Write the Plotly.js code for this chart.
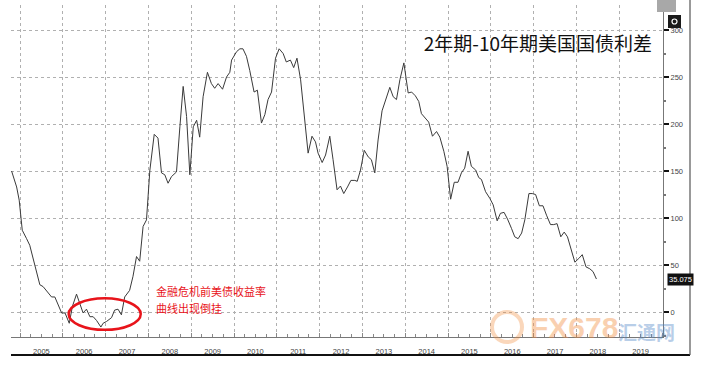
<!DOCTYPE html>
<html>
<head>
<meta charset="utf-8">
<script src="https://cdn.plot.ly/plotly-3.0.1.min.js"></script>
<style>html,body{margin:0;padding:0;background:#fff;}#chart{width:710px;height:376px;}</style>
</head>
<body>
<div id="chart"></div>
<script>
// 2y-10y US Treasury spread (bp)
const dates = [
 "2004-10-21","2004-12-03","2004-12-25","2005-01-20","2005-02-26","2005-03-25","2005-05-07","2005-06-19",
 "2005-07-17","2005-08-29","2005-09-27","2005-10-25","2005-11-23","2005-12-22","2006-01-20","2006-02-25",
 "2006-03-24","2006-04-28","2006-05-26","2006-06-23","2006-07-22","2006-08-20","2006-09-17","2006-10-16",
 "2006-11-22","2006-12-11","2007-01-10","2007-02-21","2007-03-19","2007-04-17","2007-05-16","2007-06-13",
 "2007-07-25","2007-08-23","2007-09-22","2007-10-19","2007-11-17","2007-12-16","2008-01-14","2008-02-20",
 "2008-03-23","2008-04-22","2008-05-20","2008-06-17","2008-07-16","2008-08-28","2008-09-26","2008-10-24",
 "2008-11-22","2008-12-20","2009-01-18","2009-02-16","2009-03-14","2009-04-12","2009-05-19","2009-06-22",
 "2009-07-20","2009-08-18","2009-09-25","2009-10-29","2009-11-26","2009-12-11","2010-01-23","2010-02-20",
 "2010-03-18","2010-04-17","2010-05-15","2010-06-21","2010-07-19","2010-08-23","2010-09-21","2010-10-18",
 "2010-11-17","2010-12-21","2011-01-21","2011-02-24","2011-03-23","2011-04-27","2011-05-25","2011-06-22",
 "2011-07-23","2011-08-21","2011-09-25","2011-10-28","2011-11-27","2011-12-19","2012-01-23","2012-02-21",
 "2012-03-28","2012-04-25","2012-05-29","2012-06-27","2012-07-25","2012-08-26","2012-09-24","2012-10-28",
 "2012-11-17","2012-12-15","2013-01-16","2013-02-19","2013-03-18","2013-04-16","2013-05-14","2013-06-17",
 "2013-07-24","2013-08-22","2013-09-20","2013-10-18","2013-11-16","2013-12-20","2014-01-26","2014-02-24",
 "2014-03-28","2014-04-26","2014-05-19","2014-06-16","2014-07-20","2014-08-21","2014-09-25","2014-10-23",
 "2014-11-26","2014-12-24","2015-01-23","2015-02-23","2015-03-27","2015-04-25","2015-05-23","2015-06-21",
 "2015-07-19","2015-08-25","2015-09-20","2015-10-13","2015-11-17","2015-12-23","2016-01-21","2016-02-24",
 "2016-03-23","2016-04-23","2016-05-22","2016-06-25","2016-07-23","2016-08-21","2016-09-20","2016-10-17",
 "2016-11-21","2016-12-19","2017-01-17","2017-02-18","2017-03-21","2017-04-20","2017-05-24","2017-06-21",
 "2017-07-19","2017-08-20","2017-09-18","2017-10-16","2017-11-20","2017-12-18","2018-01-21","2018-02-19",
 "2018-03-23","2018-04-24","2018-05-22","2018-06-20"
];
const spread = [
 150,133,119,87,78,71,50,29,
 27,20,16,16,7,-1,-1,-12,
 6,19,9,-1,3,-5,-5,-9,
 -16,-12,-10,-6,2,3,-3,16,
 23,38,59,54,91,98,151,189,
 185,148,146,137,144,149,197,240,
 208,146,197,204,186,229,255,243,
 238,243,237,250,255,268,277,280,
 280,272,257,234,236,201,210,226,
 234,270,280,275,266,268,260,270,
 247,211,169,187,181,169,159,167,
 187,162,130,134,126,133,140,140,
 139,151,172,165,162,148,183,214,
 227,239,229,226,247,265,233,234,
 230,224,211,207,202,187,192,186,
 171,155,120,138,138,148,153,171,
 155,151,143,141,128,121,114,97,
 105,106,99,89,80,78,84,98,
 126,126,125,113,113,103,93,93,
 94,80,85,80,66,53,57,61,
 48,46,43,35.075
];
const lastLabel = "35.075";
const yTicks = [0, 50, 100, 150, 200, 250, 300];
const titleText = "2年期-10年期美国国债利差";
const noteLine1 = "金融危机前美债收益率";
const noteLine2 = "曲线出现倒挂";
const watermark1 = "FX678";
const watermark2 = "汇通网";

const trace = {
  x: dates, y: spread, type: "scatter", mode: "lines",
  line: {color: "#3a3a3a", width: 1}, hoverinfo: "skip"
};

const px = v => (v - 11) / 652;      // pixel x -> paper x
const py = v => (337 - v) / 332;     // pixel y -> paper y

const layout = {
  width: 710, height: 376,
  margin: {l: 11, r: 47, t: 5, b: 39},
  paper_bgcolor: "#fff", plot_bgcolor: "#fff",
  showlegend: false,
  title: {text: titleText, x: 652/710, xanchor: "right", xref: "container",
          y: 1 - 44/376, yanchor: "middle", yref: "container",
          font: {family: "Noto Sans CJK SC", size: 19, color: "#111"}},
  xaxis: {
    type: "date", range: ["2004-10-16", "2020-01-09"],
    tick0: "2005-01-01", dtick: "M12", tickformat: "%Y", ticklabelmode: "period",
    ticks: "inside", ticklen: 4, tickcolor: "#888",
    minor: {dtick: "M3", ticks: "inside", ticklen: 3, tickcolor: "#888", showgrid: false},
    showgrid: true, gridcolor: "#b0b0b0", griddash: "dot", gridwidth: 1,
    showline: true, linecolor: "#777", linewidth: 1,
    zeroline: false, ticklabelstandoff: 7,
    tickfont: {family: "Liberation Sans", size: 7.5, color: "#444"}
  },
  yaxis: {
    side: "right", range: [-26.6, 326.6],
    tickvals: yTicks, ticktext: yTicks.map(String),
    ticks: "outside", ticklen: 5, tickwidth: 2, tickcolor: "#111",
    minor: {dtick: 25, tick0: 0, ticks: "outside", ticklen: 2, tickcolor: "#777", showgrid: false},
    showgrid: true, gridcolor: "#b0b0b0", griddash: "dot", gridwidth: 1,
    showline: true, linecolor: "#777", linewidth: 1,
    zeroline: false,
    tickfont: {family: "Liberation Sans", size: 7.5, color: "#444"}
  },
  shapes: [
    {type: "circle", xref: "x", yref: "y", x0: "2006-02-20", x1: "2007-10-28", y0: -19, y1: 14.5,
     line: {color: "#e8141b", width: 2.5}},
    {type: "line", xref: "paper", yref: "paper", x0: 0, x1: px(690), y0: py(355), y1: py(355),
     line: {color: "#111", width: 2}},
    {type: "line", xref: "paper", yref: "paper", x0: px(690), x1: px(690), y0: py(355), y1: py(0),
     line: {color: "#555", width: 1.2}},
    {type: "rect", xref: "paper", yref: "paper", x0: px(657), x1: px(676), y0: py(12), y1: py(0),
     line: {width: 0}, fillcolor: "#a8a8a8"},
    {type: "rect", xref: "paper", yref: "paper", x0: px(668), x1: px(681), y0: py(28), y1: py(15),
     line: {width: 0}, fillcolor: "#1a1a1a"},
    {type: "circle", xref: "paper", yref: "paper", x0: px(672), x1: px(677), y0: py(24), y1: py(19),
     line: {color: "#fff", width: 1.2}},
    {type: "circle", xref: "paper", yref: "paper", x0: px(492), x1: px(522), y0: py(342), y1: py(312),
     line: {color: "rgba(242,140,60,0.35)", width: 4}}
  ],
  annotations: [
    {xref: "paper", yref: "paper", x: px(155), y: py(291), xanchor: "left", yanchor: "middle",
     text: noteLine1, showarrow: false, borderpad: 0,
     font: {family: "Noto Sans CJK SC", size: 11, color: "#e8141b"}},
    {xref: "paper", yref: "paper", x: px(155), y: py(307.5), xanchor: "left", yanchor: "middle",
     text: noteLine2, showarrow: false, borderpad: 0,
     font: {family: "Noto Sans CJK SC", size: 11, color: "#e8141b"}},
    {xref: "paper", yref: "y", x: px(667), y: spread[spread.length-1], xanchor: "left", yanchor: "middle",
     text: lastLabel, showarrow: false, bgcolor: "#111", borderpad: 1,
     font: {family: "Liberation Sans", size: 7.5, color: "#fff"}},
    {xref: "paper", yref: "paper", x: px(528), y: py(327), xanchor: "left", yanchor: "middle",
     text: "<b>" + watermark1 + "</b>", showarrow: false, opacity: 0.4,
     font: {family: "Liberation Sans", size: 30, color: "#f28c3c"}},
    {xref: "paper", yref: "paper", x: px(616), y: py(331), xanchor: "left", yanchor: "middle",
     text: "<b>" + watermark2 + "</b>", showarrow: false, opacity: 0.4,
     font: {family: "Noto Sans CJK SC", size: 19, color: "#4f86c6"}}
  ]
};

Plotly.newPlot("chart", [trace], layout, {displayModeBar: false, staticPlot: true});
</script>
</body>
</html>
